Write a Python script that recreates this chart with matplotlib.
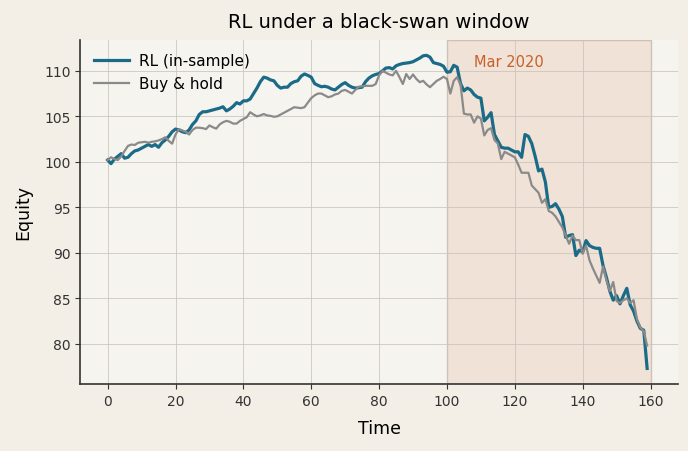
import numpy as np
import matplotlib
matplotlib.use('Agg')
import matplotlib.pyplot as plt

# equity curves, t = 0..159
rl_equity = [
    100.2, 99.8, 100.3, 100.6, 100.9, 100.4, 100.5, 100.9, 101.2, 101.3,
    101.5, 101.7, 101.9, 101.7, 101.9, 101.6, 102.1, 102.4, 102.8, 103.3,
    103.6, 103.5, 103.3, 103.2, 103.5, 104.1, 104.5, 105.2, 105.5, 105.5,
    105.6, 105.7, 105.8, 105.9, 106.05, 105.6, 105.8, 106.1, 106.5, 106.35,
    106.7, 106.7, 106.9, 107.5, 108.1, 108.8, 109.3, 109.2, 109.0, 108.9,
    108.4, 108.1, 108.2, 108.2, 108.6, 108.8, 108.9, 109.4, 109.65, 109.5,
    109.3, 108.6, 108.4, 108.25, 108.3, 108.2, 108.0, 107.9, 108.2, 108.5,
    108.7, 108.4, 108.2, 108.1, 108.15, 108.2, 108.8, 109.2, 109.45, 109.6,
    109.7, 110.0, 110.3, 110.35, 110.2, 110.55, 110.7, 110.8, 110.85, 110.9,
    111.0, 111.2, 111.4, 111.65, 111.7, 111.5, 110.9, 110.8, 110.7, 110.5,
    109.85, 109.9, 110.6, 110.4, 108.6, 107.8, 108.1, 107.9, 107.4, 107.1,
    107.0, 104.5, 104.9, 105.4, 103.0, 102.3, 101.6, 101.5, 101.5, 101.3,
    101.1, 101.1, 100.5, 103.0, 102.8, 102.0, 100.6, 99.0, 99.2, 97.8,
    95.0, 95.1, 95.4, 94.8, 94.0, 91.7, 91.9, 92.0, 89.7, 90.3,
    90.1, 91.35, 90.8, 90.6, 90.5, 90.5, 88.6, 87.3, 85.8, 84.8,
    85.3, 84.4, 85.3, 86.1, 84.3, 83.6, 82.5, 81.7, 81.5, 77.3,
]
bh_equity = [
    100.2, 100.5, 100.3, 100.2, 100.6, 101.2, 101.75, 101.9, 101.85, 102.1,
    102.15, 102.2, 102.1, 102.2, 102.25, 102.35, 102.5, 102.7, 102.3, 102.0,
    103.0, 103.6, 103.45, 103.3, 103.0, 103.5, 103.75, 103.75, 103.7, 103.6,
    104.0, 103.8, 103.65, 104.1, 104.35, 104.5, 104.4, 104.2, 104.2, 104.5,
    104.7, 104.9, 105.45, 105.2, 105.0, 105.1, 105.25, 105.1, 105.05, 104.95,
    105.0, 105.2, 105.4, 105.6, 105.8, 106.0, 105.95, 105.9, 106.0, 106.5,
    107.0, 107.3, 107.5, 107.5, 107.3, 107.1, 107.2, 107.4, 107.5, 107.8,
    107.9, 107.7, 107.5, 107.9, 108.25, 108.3, 108.35, 108.35, 108.35, 108.55,
    109.5, 110.0, 109.8, 109.6, 109.5, 110.0, 109.3, 108.55, 109.65, 109.1,
    109.6, 109.1, 108.75, 108.9, 108.5, 108.2, 108.55, 108.9, 109.1, 109.35,
    109.1, 107.5, 108.9, 109.3, 108.5, 105.3, 105.2, 105.2, 104.3, 105.0,
    104.75, 102.9, 103.5, 103.7, 102.4, 102.0, 100.3, 101.1, 100.9, 100.7,
    100.5, 99.7, 98.8, 98.8, 98.8, 97.4, 97.0, 96.6, 95.5, 95.9,
    94.6, 94.4, 94.0, 93.4, 92.8, 91.9, 91.0, 91.9, 91.4, 91.4,
    89.9, 90.8, 89.2, 88.3, 87.5, 86.7, 88.5, 87.0, 85.8, 86.8,
    84.7, 84.5, 84.8, 85.0, 84.5, 84.8, 82.7, 81.8, 81.4, 79.8,
]
window = (100, 160)
window_label = 'Mar 2020'

t = np.arange(len(rl_equity))

fig, ax = plt.subplots(figsize=(6.88, 4.52), dpi=100)
fig.patch.set_facecolor('#f3eee6')
ax.set_facecolor('#f6f4ef')

ax.axvspan(*window, facecolor='#e9cdb8', alpha=0.45, edgecolor='#b08a70', linewidth=1.0)
ax.plot(t, rl_equity, color='#1a6b88', lw=2.3, label='RL (in-sample)')
ax.plot(t, bh_equity, color='#8a8a8a', lw=1.6, label='Buy & hold')
ax.text(108, 110.5, window_label, color='#c8602a', fontsize=10.5)

ax.grid(True, color='#c9c4bc', lw=0.7, alpha=0.8)
for side in ['top', 'right']:
    ax.spines[side].set_visible(False)
for side in ['left', 'bottom']:
    ax.spines[side].set_color('#333333')
    ax.spines[side].set_linewidth(1.2)
ax.tick_params(colors='#333333', labelsize=10)

ax.set_xlabel('Time', fontsize=12.5, labelpad=8)
ax.set_ylabel('Equity', fontsize=12.5, labelpad=9)
ax.set_title('RL under a black-swan window', fontsize=14, pad=9)
ax.legend(loc='upper left', frameon=False, fontsize=11, handlelength=2.3,
          handletextpad=0.6)

plt.subplots_adjust(left=0.117, right=0.985, top=0.91, bottom=0.148)
plt.savefig('out.png', dpi=100, facecolor=fig.get_facecolor())
